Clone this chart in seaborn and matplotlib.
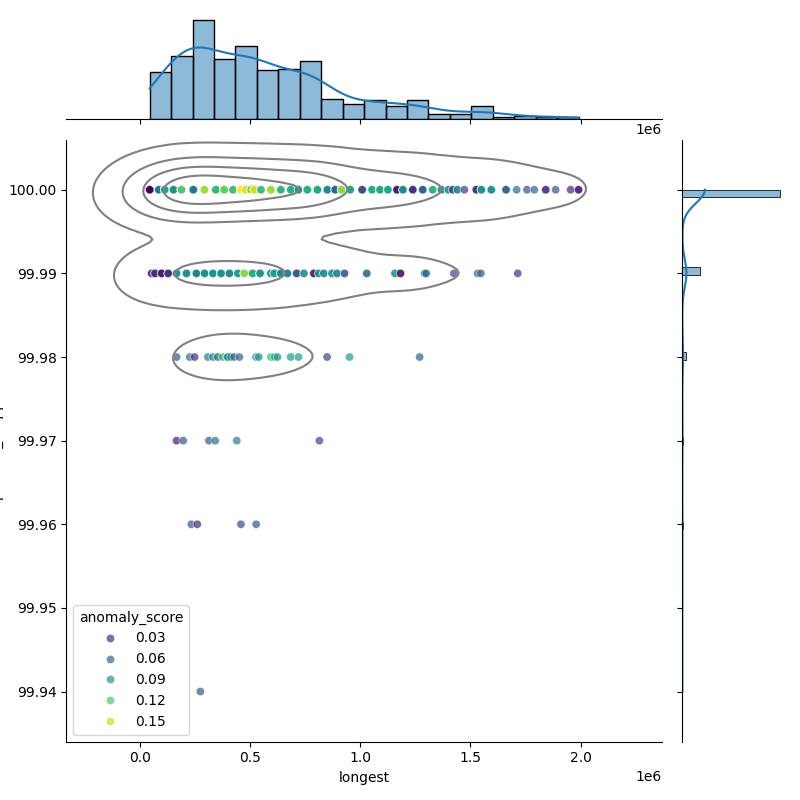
import matplotlib
matplotlib.use("Agg")
import matplotlib.pyplot as plt
import numpy as np
import pandas as pd
import seaborn as sns

# longest (thousands), anomaly score and number of samples per position, one set per identity row
row_100_x = [45, 86, 113, 153, 189, 243, 293, 345, 383, 423, 459, 480, 505, 520, 550, 595, 640, 685, 720, 760,
             806, 851, 887, 915, 955, 1009, 1054, 1090, 1126, 1167, 1194, 1239, 1284, 1329, 1369, 1400, 1420, 1441,
             1473, 1527, 1550, 1595, 1662, 1710, 1757, 1790, 1842, 1887, 1955, 1991]
row_100_score = [0.008, 0.07, 0.095, 0.085, 0.12, 0.065, 0.14, 0.11, 0.125, 0.115, 0.162, 0.155, 0.13, 0.15, 0.115,
                 0.14, 0.11, 0.105, 0.085, 0.105, 0.1, 0.08, 0.055, 0.135, 0.1, 0.045, 0.105, 0.1, 0.1, 0.018, 0.08,
                 0.03, 0.055, 0.1, 0.08, 0.085, 0.04, 0.08, 0.03, 0.035, 0.085, 0.09, 0.055, 0.06, 0.045, 0.055, 0.03,
                 0.045, 0.025, 0.02]
row_100_count = [16, 17, 17, 34, 35, 55, 55, 21, 21, 20, 20, 20, 20, 19, 24, 23, 19, 18, 18, 36, 36, 7, 6, 7, 9, 8,
                 12, 12, 5, 4, 4, 11, 11, 2, 2, 2, 2, 2, 1, 5, 5, 5, 3, 1, 1, 1, 2, 1, 1, 2]

row_9999_x = [54, 69, 99, 129, 167, 212, 257, 294, 332, 369, 407, 445, 474, 512, 546, 595, 610, 640, 670, 712, 745,
              790, 812, 835, 872, 895, 929, 1030, 1158, 1183, 1293, 1300, 1425, 1533, 1548, 1715]
row_9999_score = [0.03, 0.028, 0.02, 0.03, 0.085, 0.085, 0.075, 0.085, 0.088, 0.085, 0.08, 0.095, 0.135, 0.105, 0.085,
                  0.082, 0.095, 0.08, 0.078, 0.05, 0.085, 0.018, 0.085, 0.08, 0.085, 0.075, 0.055, 0.065, 0.09, 0.018,
                  0.08, 0.06, 0.04, 0.05, 0.055, 0.03]
row_9999_count = [3, 3, 4, 4, 5, 6, 6, 6, 6, 6, 6, 5, 5, 5, 5, 5, 5, 4, 4, 3, 2, 2, 2, 2, 2, 2, 2, 2, 2, 2, 2, 1, 1,
                  1, 1, 1]

row_9998_x = [167, 227, 249, 309, 332, 354, 377, 399, 414, 428, 452, 527, 540, 595, 612, 625, 685, 720, 850, 952, 1270]
row_9998_score = [0.05, 0.065, 0.03, 0.07, 0.08, 0.06, 0.11, 0.08, 0.078, 0.06, 0.055, 0.1, 0.085, 0.11, 0.1, 0.09,
                  0.09, 0.09, 0.04, 0.09, 0.055]
row_9998_count = [1, 1, 1, 1, 1, 1, 1, 2, 1, 1, 1, 1, 1, 1, 1, 1, 1, 1, 1, 1, 1]

row_9997_x = [167, 197, 314, 342, 440, 815]
row_9997_score = [0.02, 0.05, 0.05, 0.065, 0.07, 0.04]

row_9996_x = [234, 261, 459, 528]
row_9996_score = [0.05, 0.025, 0.04, 0.05]

row_9994_x = [275]
row_9994_score = [0.05]


def build_row(y, xs, scores, counts=None):
    if counts is None:
        counts = [1] * len(xs)
    return pd.DataFrame({
        'longest': np.repeat(np.array(xs) * 1000, counts),
        'percent_mapped': y,
        'anomaly_score': np.repeat(scores, counts),
    })


df = pd.concat([
    build_row(100.00, row_100_x, row_100_score, row_100_count),
    build_row(99.99, row_9999_x, row_9999_score, row_9999_count),
    build_row(99.98, row_9998_x, row_9998_score, row_9998_count),
    build_row(99.97, row_9997_x, row_9997_score),
    build_row(99.96, row_9996_x, row_9996_score),
    build_row(99.94, row_9994_x, row_9994_score),
], ignore_index=True)

g = sns.JointGrid(data=df, x='longest', y='percent_mapped', height=8)
sns.scatterplot(data=df, x='longest', y='percent_mapped', hue='anomaly_score',
                palette='viridis', alpha=0.7, ax=g.ax_joint)
sns.kdeplot(data=df, x='longest', y='percent_mapped', color='gray', levels=5, ax=g.ax_joint)
sns.histplot(data=df, x='longest', bins=20, kde=True, ax=g.ax_marg_x)
sns.histplot(data=df, y='percent_mapped', bins=65, kde=True, ax=g.ax_marg_y)

g.figure.savefig('out.png', dpi=100)
